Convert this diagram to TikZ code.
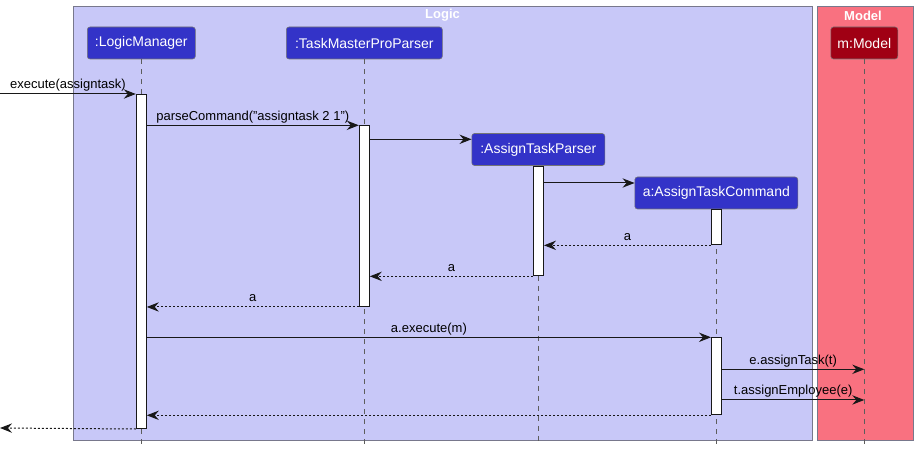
\documentclass[tikz,border=0pt]{standalone}
\usepackage{fontspec}
\setmainfont{Liberation Sans}
\usetikzlibrary{arrows.meta}
\definecolor{logicbg}{RGB}{200,200,248}
\definecolor{logicpart}{RGB}{51,51,200}
\definecolor{modelbg}{RGB}{249,113,128}
\definecolor{modelpart}{RGB}{160,0,20}
\definecolor{boxline}{RGB}{120,120,140}
\definecolor{ink}{RGB}{24,24,24}
\begin{document}
\begin{tikzpicture}[x=0.75pt,y=-0.75pt,
  >={Stealth[length=9pt,width=7pt,inset=3pt]},
  part/.style={draw=ink!60,line width=0.4pt,rounded corners=2pt,fill=logicpart,text=white,
    font=\fontsize{10.5pt}{12pt}\selectfont,inner sep=0pt,minimum height=24pt},
  mpart/.style={part,fill=modelpart},
  life/.style={draw=ink!70,line width=0.6pt,dash pattern=on 3.75pt off 3.75pt},
  act/.style={draw=ink,line width=0.75pt,fill=white,minimum width=7.5pt,inner sep=0pt,anchor=north},
  msg/.style={draw=ink,line width=0.75pt,->},
  ret/.style={msg,dash pattern=on 1.5pt off 1.5pt},
  lbl/.style={font=\fontsize{9.75pt}{11pt}\selectfont,text=black,inner sep=0pt,anchor=base,yshift=3.75pt},
  grp/.style={draw=boxline,line width=0.75pt},
  gtitle/.style={font=\bfseries\fontsize{9.75pt}{11pt}\selectfont,text=white,inner sep=0pt}]
\useasboundingbox (0,0) rectangle (917,452);
% groups
\node[grp,fill=logicbg,minimum width=554.25pt,minimum height=325.5pt,anchor=north west,inner sep=0pt] (logic) at (73,6) {};
\node[grp,fill=modelbg,minimum width=71.75pt,minimum height=325.5pt,anchor=north west,inner sep=0pt] (model) at (817,6) {};
\node[gtitle] (logict) at (442.5,15.5) {Logic};
\node[gtitle] (modelt) at (863,15.5) {Model};
% participants
\node[part,minimum width=81pt] (lm) at (141.3,43) {:LogicManager};
\node[part,minimum width=117pt] (tp) at (364.3,43) {:TaskMasterProParser};
\node[part,minimum width=99.75pt] (ap) at (538.3,149.5) {:AssignTaskParser};
\node[part,minimum width=122.25pt] (ac) at (716.3,193) {a:AssignTaskCommand};
\node[mpart,minimum width=50.25pt] (mm) at (864.3,43) {m:Model};
% lifelines
\coordinate (lmEnd) at (141.3,445);
\coordinate (tpEnd) at (364.3,445);
\coordinate (apEnd) at (538.3,445);
\coordinate (acEnd) at (716.3,445);
\coordinate (mmEnd) at (864.3,445);
\draw[life] (lm.south) -- (lmEnd);
\draw[life] (tp.south) -- (tpEnd);
\draw[life] (ap.south) -- (apEnd);
\draw[life] (ac.south) -- (acEnd);
\draw[life] (mm.south) -- (mmEnd);
% activations
\node[act,minimum height=250.5pt] (lmA) at (141.3,94) {};
\node[act,minimum height=135.5pt] (tpA) at (364.3,125.3) {};
\node[act,minimum height=82pt] (apA) at (538.5,166) {};
\node[act,minimum height=26.5pt] (acA) at (716.5,209) {};
\node[act,minimum height=57.75pt] (acB) at (716.5,337.3) {};
% message anchor points
\coordinate (start) at (0,94);
\coordinate (finish) at (0,428);
\coordinate (c1) at ([yshift=-10.5pt]tpA.north east);
\coordinate (c2) at ([yshift=-12.75pt]apA.north east);
\coordinate (c3) at ([yshift=-24pt]acB.north east);
\coordinate (c4) at ([yshift=-47pt]acB.north east);
% messages
\draw[msg] (start) -- node[lbl]{execute(assigntask)} (lmA.north west);
\draw[msg] (lmA.east |- tpA.north) -- node[lbl]{parseCommand("assigntask 2 1")} (tpA.north west);
\draw[msg] (c1) -- (ap.west |- c1);
\draw[msg] (c2) -- (ac.west |- c2);
\draw[ret] (acA.south west) -- node[lbl]{a} (apA.east |- acA.south);
\draw[ret] (apA.south west) -- node[lbl]{a} (tpA.east |- apA.south);
\draw[ret] (tpA.south west) -- node[lbl]{a} (lmA.east |- tpA.south);
\draw[msg] (lmA.east |- acB.north) -- node[lbl]{a.execute(m)} (acB.north west);
\draw[msg] (c3) -- node[lbl]{e.assignTask(t)} (mm.south |- c3);
\draw[msg] (c4) -- node[lbl]{t.assignEmployee(e)} (mm.south |- c4);
\draw[ret] (acB.south west) -- (lmA.east |- acB.south);
\draw[ret] (lmA.south west) -- (finish);
\end{tikzpicture}
\end{document}
